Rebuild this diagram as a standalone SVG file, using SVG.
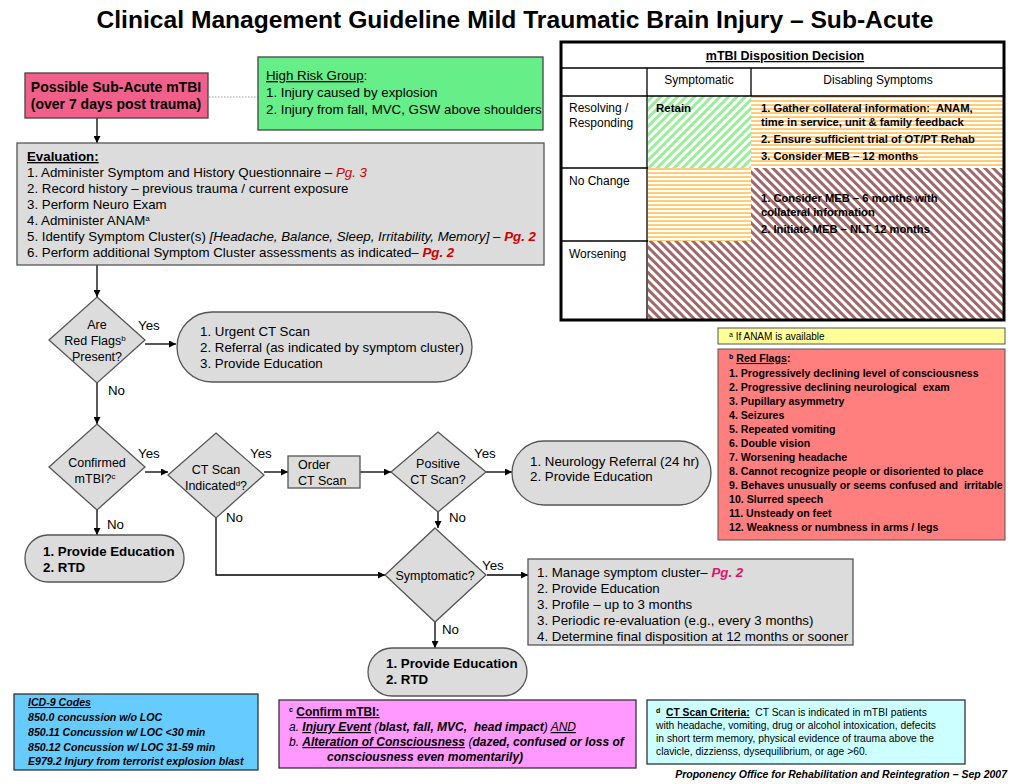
<svg xmlns="http://www.w3.org/2000/svg" width="1024" height="784" viewBox="0 0 1024 784">
<defs>
<pattern id="pGreen" width="6" height="6" patternUnits="userSpaceOnUse" patternTransform="rotate(45)">
<rect width="6" height="6" fill="#ffffff"/><rect width="3" height="6" fill="#99ee99"/>
</pattern>
<pattern id="pOrange" width="6" height="4" patternUnits="userSpaceOnUse">
<rect width="6" height="4" fill="#ffffff"/><rect width="6" height="2" fill="#ffcc77"/>
</pattern>
<pattern id="pMaroon" width="6" height="6" patternUnits="userSpaceOnUse" patternTransform="rotate(-45)">
<rect width="6" height="6" fill="#ffffff"/><rect width="3" height="6" fill="#a06868"/>
</pattern>
<marker id="arr" viewBox="0 0 10 10" refX="10" refY="5" markerWidth="7" markerHeight="7" markerUnits="userSpaceOnUse" orient="auto">
<path d="M0,0 L10,5 L0,10 z" fill="#000"/>
</marker>
</defs>
<style>
text{font-family:"Liberation Sans",Arial,sans-serif;fill:#000}
.t13{font-size:13.3px}
.t12{font-size:12.5px}
.b{font-weight:bold}
.i{font-style:italic}
.u{text-decoration:underline}
.gray{fill:#dcdcdc;stroke:#555;stroke-width:1.3}
.con{stroke:#000;stroke-width:1.3;fill:none}
.sm{font-size:10.6px;font-weight:bold}
.red{fill:#cc0000}
</style>
<rect width="1024" height="784" fill="#ffffff"/>
<text x="515" y="28" text-anchor="middle" class="b" font-size="24" textLength="837" lengthAdjust="spacingAndGlyphs">Clinical Management Guideline Mild Traumatic Brain Injury – Sub-Acute</text>

<g id="table">
<rect x="648" y="96" width="103" height="72" fill="url(#pGreen)"/>
<rect x="751" y="96" width="253" height="72" fill="url(#pOrange)"/>
<rect x="648" y="168" width="103" height="73" fill="url(#pOrange)"/>
<rect x="751" y="168" width="253" height="73" fill="url(#pMaroon)"/>
<rect x="648" y="241" width="356" height="79" fill="url(#pMaroon)"/>
<rect x="561" y="42" width="443" height="278" fill="none" stroke="#000" stroke-width="3"/>
<line x1="561" y1="68" x2="1004" y2="68" stroke="#000" stroke-width="1.3"/>
<line x1="561" y1="96" x2="1004" y2="96" stroke="#000" stroke-width="1.3"/>
<line x1="561" y1="168" x2="648" y2="168" stroke="#000" stroke-width="1.3"/>
<line x1="561" y1="241" x2="648" y2="241" stroke="#000" stroke-width="1.3"/>
<line x1="647" y1="68" x2="647" y2="320" stroke="#000" stroke-width="1.3"/>
<line x1="751" y1="68" x2="751" y2="96" stroke="#000" stroke-width="1.3"/>
<text x="785" y="60" text-anchor="middle" class="b u" font-size="12.5">mTBI Disposition Decision</text>
<text x="699" y="84" text-anchor="middle" font-size="12">Symptomatic</text>
<text x="878" y="84" text-anchor="middle" font-size="12">Disabling Symptoms</text>
<text x="569" y="112" font-size="12">Resolving /</text>
<text x="569" y="127" font-size="12">Responding</text>
<text x="569" y="185" font-size="12">No Change</text>
<text x="569" y="258" font-size="12">Worsening</text>
<text x="656" y="112" class="b" font-size="11.5">Retain</text>
<g class="b" font-size="11.2">
<text x="761" y="112" xml:space="preserve">1. Gather collateral information:  ANAM,</text>
<text x="761" y="126">time in service, unit &amp; family feedback</text>
<text x="761" y="143">2. Ensure sufficient trial of OT/PT Rehab</text>
<text x="761" y="160">3. Consider MEB – 12 months</text>
<text x="761" y="202">1. Consider MEB – 6 months with</text>
<text x="761" y="216">collateral information</text>
<text x="761" y="233">2. Initiate MEB – NLT 12 months</text>
</g>
</g>

<g id="connectors">
<line x1="209" y1="97" x2="258" y2="97" stroke="#999" stroke-width="1" stroke-dasharray="1.5,1.5"/>
<line class="con" x1="97" y1="118" x2="97" y2="143" marker-end="url(#arr)"/>
<line class="con" x1="97" y1="265" x2="97" y2="297" marker-end="url(#arr)"/>
<line class="con" x1="145" y1="344" x2="176" y2="344" marker-end="url(#arr)"/>
<line class="con" x1="97" y1="383" x2="97" y2="424" marker-end="url(#arr)"/>
<line class="con" x1="145" y1="472" x2="168" y2="472" marker-end="url(#arr)"/>
<line class="con" x1="264" y1="472" x2="288" y2="472" marker-end="url(#arr)"/>
<line class="con" x1="360" y1="472" x2="391" y2="472" marker-end="url(#arr)"/>
<line class="con" x1="486" y1="472" x2="512" y2="472" marker-end="url(#arr)"/>
<line class="con" x1="97" y1="510" x2="97" y2="535" marker-end="url(#arr)"/>
<polyline class="con" points="216,518 216,575 385,575" marker-end="url(#arr)"/>
<line class="con" x1="438" y1="512" x2="438" y2="528" marker-end="url(#arr)"/>
<line class="con" x1="487" y1="575" x2="528" y2="575" marker-end="url(#arr)"/>
<line class="con" x1="435" y1="622" x2="435" y2="648" marker-end="url(#arr)"/>
<g class="t13">
<text x="138" y="330">Yes</text>
<text x="108" y="395">No</text>
<text x="138" y="458">Yes</text>
<text x="250" y="458">Yes</text>
<text x="474" y="458">Yes</text>
<text x="107" y="529">No</text>
<text x="226" y="522">No</text>
<text x="449" y="522">No</text>
<text x="482" y="570">Yes</text>
<text x="442" y="634">No</text>
</g>
</g>

<g id="start">
<rect x="25" y="73" width="183" height="45" fill="#f0608a" stroke="#444" stroke-width="1.3"/>
<text x="116" y="92" text-anchor="middle" class="b" font-size="14">Possible Sub-Acute mTBI</text>
<text x="116" y="109" text-anchor="middle" class="b" font-size="14">(over 7 days post trauma)</text>
</g>

<g id="highrisk">
<rect x="258" y="57" width="285" height="73" fill="#66ee88" stroke="#444" stroke-width="1.3"/>
<text x="266" y="80" class="t13"><tspan class="u">High Risk Group</tspan>:</text>
<text x="266" y="97" class="t13">1. Injury caused by explosion</text>
<text x="266" y="114" class="t13">2. Injury from fall, MVC, GSW above shoulders</text>
</g>

<g id="evaluation">
<rect x="17" y="143" width="527" height="122" class="gray"/>
<text x="27" y="161" class="t13 b u">Evaluation:</text>
<text x="27" y="177" class="t13">1. Administer Symptom and History Questionnaire – <tspan class="i red">Pg. 3</tspan></text>
<text x="27" y="193" class="t13">2. Record history – previous trauma / current exposure</text>
<text x="27" y="209" class="t13">3. Perform Neuro Exam</text>
<text x="27" y="225" class="t13">4. Administer ANAM<tspan font-size="8" dy="-4">a</tspan></text>
<text x="27" y="241" class="t13">5. Identify Symptom Cluster(s) <tspan class="i">[Headache, Balance, Sleep, Irritability, Memory]</tspan> – <tspan class="i b red">Pg. 2</tspan></text>
<text x="27" y="257" class="t13">6. Perform additional Symptom Cluster assessments as indicated– <tspan class="i b red">Pg. 2</tspan></text>
</g>

<g id="redflags-q">
<polygon points="97,297 145,340 97,383 49,340" class="gray"/>
<text x="97" y="329" text-anchor="middle" class="t12">Are</text>
<text x="95" y="345" text-anchor="middle" class="t12">Red Flags<tspan font-size="8" dy="-4">b</tspan></text>
<text x="97" y="361" text-anchor="middle" class="t12">Present?</text>
</g>

<g id="urgent">
<rect x="177" y="312" width="295" height="70" rx="35" ry="35" class="gray"/>
<text x="200" y="336" class="t13">1. Urgent CT Scan</text>
<text x="200" y="352" class="t13">2. Referral (as indicated by symptom cluster)</text>
<text x="200" y="368" class="t13">3. Provide Education</text>
</g>

<g id="confirmed-q">
<polygon points="97,424 145,467 97,510 49,467" class="gray"/>
<text x="97" y="467" text-anchor="middle" class="t12">Confirmed</text>
<text x="95" y="483" text-anchor="middle" class="t12">mTBI?<tspan font-size="8" dy="-4">c</tspan></text>
</g>

<g id="ctind-q">
<polygon points="216,433 264,475 216,518 168,475" class="gray"/>
<text x="216" y="474" text-anchor="middle" class="t12">CT Scan</text>
<text x="216" y="490" text-anchor="middle" class="t12">Indicated<tspan font-size="8" dy="-4">d</tspan><tspan dy="4">?</tspan></text>
</g>

<g id="order">
<rect x="288" y="456" width="72" height="32" class="gray"/>
<text x="298" y="469" class="t12">Order</text>
<text x="298" y="485" class="t12">CT Scan</text>
</g>

<g id="positive-q">
<polygon points="438,432 486,472 438,512 391,472" class="gray"/>
<text x="438" y="468" text-anchor="middle" class="t12">Positive</text>
<text x="438" y="484" text-anchor="middle" class="t12">CT Scan?</text>
</g>

<g id="neuro">
<rect x="512" y="441" width="199" height="64" rx="32" ry="32" class="gray"/>
<text x="530" y="466" class="t13">1. Neurology Referral (24 hr)</text>
<text x="530" y="481" class="t13">2. Provide Education</text>
</g>

<g id="edu1">
<rect x="25" y="535" width="159" height="47" rx="23" ry="23" class="gray"/>
<text x="43" y="556" class="t13 b">1. Provide Education</text>
<text x="43" y="572" class="t13 b">2. RTD</text>
</g>

<g id="symptomatic-q">
<polygon points="435,528 486,575 435,622 385,575" class="gray"/>
<text x="435" y="580" text-anchor="middle" class="t12">Symptomatic?</text>
</g>

<g id="manage">
<rect x="528" y="559" width="325" height="86" class="gray"/>
<text x="537" y="577" class="t13">1. Manage symptom cluster– <tspan class="i b" fill="#e0106a">Pg. 2</tspan></text>
<text x="537" y="593" class="t13">2. Provide Education</text>
<text x="537" y="609" class="t13">3. Profile – up to 3 months</text>
<text x="537" y="625" class="t13">3. Periodic re-evaluation (e.g., every 3 months)</text>
<text x="537" y="641" class="t13">4. Determine final disposition at 12 months or sooner</text>
</g>

<g id="edu2">
<rect x="368" y="648" width="159" height="48" rx="24" ry="24" class="gray"/>
<text x="386" y="668" class="t13 b">1. Provide Education</text>
<text x="386" y="684" class="t13 b">2. RTD</text>
</g>

<g id="note-a">
<rect x="718" y="328" width="287" height="16" fill="#ffff99" stroke="#555" stroke-width="1"/>
<text x="729" y="340" font-size="10"><tspan font-size="7" dy="-3">a</tspan><tspan dy="3"> If ANAM is available</tspan></text>
</g>

<g id="note-b">
<rect x="718" y="349" width="287" height="191" fill="#ff7f7f" stroke="#555" stroke-width="1"/>
<text x="729" y="362" class="sm"><tspan font-size="7" dy="-3">b</tspan><tspan dy="3"> </tspan><tspan class="u">Red Flags</tspan>:</text>
<g class="sm">
<text x="729" y="377">1. Progressively declining level of consciousness</text>
<text x="729" y="391" xml:space="preserve">2. Progressive declining neurological  exam</text>
<text x="729" y="405">3. Pupillary asymmetry</text>
<text x="729" y="419">4. Seizures</text>
<text x="729" y="433">5. Repeated vomiting</text>
<text x="729" y="447">6. Double vision</text>
<text x="729" y="461">7. Worsening headache</text>
<text x="729" y="475">8. Cannot recognize people or disoriented to place</text>
<text x="729" y="489" xml:space="preserve">9. Behaves unusually or seems confused and  irritable</text>
<text x="729" y="503">10. Slurred speech</text>
<text x="729" y="517">11. Unsteady on feet</text>
<text x="729" y="531">12. Weakness or numbness in arms / legs</text>
</g>
</g>

<g id="icd">
<rect x="14" y="694" width="244" height="76" fill="#66ccff" stroke="#333" stroke-width="1.3"/>
<g class="sm i">
<text x="28" y="706" class="u">ICD-9 Codes</text>
<text x="28" y="721">850.0 concussion w/o LOC</text>
<text x="28" y="736">850.11 Concussion w/ LOC &lt;30 min</text>
<text x="28" y="751">850.12 Concussion w/ LOC 31-59 min</text>
<text x="28" y="765">E979.2 Injury from terrorist explosion blast</text>
</g>
</g>

<g id="note-c">
<rect x="279" y="700" width="357" height="68" fill="#ff99ff" stroke="#333" stroke-width="1.3"/>
<text x="289" y="716" font-size="12" class="b"><tspan font-size="7" dy="-4">c</tspan><tspan dy="4"> </tspan><tspan class="u">Confirm mTBI:</tspan></text>
<text x="289" y="731" font-size="12" class="i" xml:space="preserve">a. <tspan class="b u">Injury Event</tspan> (<tspan class="b">blast, fall, MVC,  head impact</tspan>) <tspan class="u">AND</tspan></text>
<text x="289" y="746" font-size="12" class="i">b. <tspan class="b u">Alteration of Consciousness</tspan> (<tspan class="b">dazed, confused or loss of</tspan></text>
<text x="327" y="761" font-size="12" class="i b">consciousness even momentarily)</text>
</g>

<g id="note-d">
<rect x="647" y="700" width="318" height="64" fill="#ccffff" stroke="#333" stroke-width="1.3"/>
<text x="656" y="716" font-size="10.3" xml:space="preserve"><tspan font-size="7" dy="-3" class="b">d</tspan><tspan dy="3">  </tspan><tspan class="b u">CT Scan Criteria:</tspan>  CT Scan is indicated in mTBI patients</text>
<text x="656" y="729" font-size="10.3">with headache, vomiting, drug or alcohol intoxication, defecits</text>
<text x="656" y="742" font-size="10.3">in short term memory, physical evidence of trauma above the</text>
<text x="656" y="755" font-size="10.3">clavicle, dizzienss, dysequilibrium, or age &gt;60.</text>
</g>

<text x="1007" y="778" text-anchor="end" class="b i" font-size="10.5">Proponency Office for Rehabilitation and Reintegration – Sep 2007</text>
</svg>
